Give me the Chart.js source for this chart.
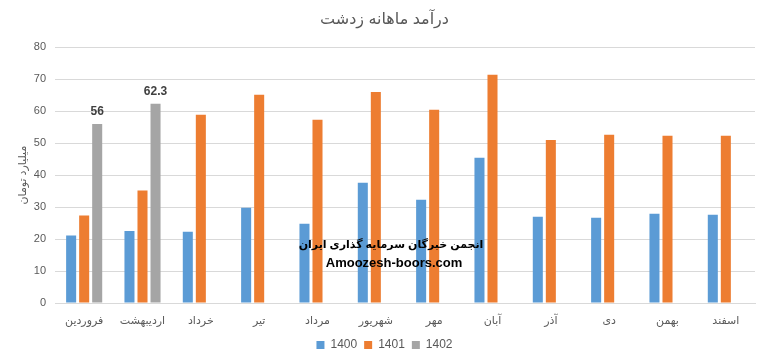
<!DOCTYPE html>
<html>
<head>
<meta charset="utf-8">
<script src="https://cdn.jsdelivr.net/npm/chart.js@4/dist/chart.umd.min.js"></script>
<style>
  html, body { margin: 0; padding: 0; background: #fff; }
  #wrap { width: 767px; height: 361px; }
</style>
</head>
<body>
<div id="wrap"><canvas id="c" width="767" height="361"></canvas></div>
<script>
// months (Persian calendar)
const months = ['فروردین','اردیبهشت','خرداد','تیر','مرداد','شهریور','مهر','آبان','آذر','دی','بهمن','اسفند'];
const seriesNames = ['1400','1401','1402'];
const v1400 = [21.1, 22.5, 22.3, 29.8, 24.8, 37.6, 32.3, 45.4, 27.0, 26.7, 27.9, 27.6];
const v1401 = [27.4, 35.2, 58.9, 65.1, 57.3, 66.0, 60.4, 71.4, 51.0, 52.6, 52.3, 52.3];
const v1402 = [56, 62.3, null, null, null, null, null, null, null, null, null, null];
const yTicks = [0, 10, 20, 30, 40, 50, 60, 70, 80];

const FONT = "'Liberation Sans', 'DejaVu Sans', sans-serif";
const GREY = '#595959';

// data labels above the 1402 bars
const labels1402 = {
  id: 'labels1402',
  afterDatasetsDraw(chart) {
    const ctx = chart.ctx;
    const meta = chart.getDatasetMeta(2);
    ctx.save();
    ctx.font = 'bold 12px ' + FONT;
    ctx.fillStyle = '#404040';
    ctx.textAlign = 'center';
    ctx.textBaseline = 'bottom';
    meta.data.forEach((bar, i) => {
      if (v1402[i] == null) return;
      ctx.fillText(String(v1402[i]), bar.x, bar.y - 6);
    });
    ctx.restore();
  }
};

// watermark text in the middle of the plot
const watermark = {
  id: 'watermark',
  afterDatasetsDraw(chart) {
    const ctx = chart.ctx;
    ctx.save();
    ctx.fillStyle = '#000';
    ctx.textAlign = 'center';
    ctx.textBaseline = 'alphabetic';
    ctx.font = 'bold 11px ' + FONT;
    ctx.fillText('انجمن خبرگان سرمایه گذاری ایران', 391, 248);
    ctx.font = 'bold 13px ' + FONT;
    ctx.fillText('Amoozesh-boors.com', 394, 267);
    ctx.restore();
  }
};

new Chart(document.getElementById('c'), {
  type: 'bar',
  data: {
    labels: months,
    datasets: [
      { label: seriesNames[0], data: v1400, backgroundColor: '#5B9BD5' },
      { label: seriesNames[1], data: v1401, backgroundColor: '#ED7D31' },
      { label: seriesNames[2], data: v1402, backgroundColor: '#A5A5A5' }
    ]
  },
  options: {
    responsive: false,
    animation: false,
    devicePixelRatio: 1,
    categoryPercentage: 0.67,
    barPercentage: 0.77,
    layout: { padding: { left: 14, right: 12, top: 0, bottom: 0 } },
    plugins: {
      title: {
        display: true,
        text: 'درآمد ماهانه زدشت',
        color: GREY,
        font: { family: FONT, size: 16, weight: 'normal' },
        padding: { top: 10, bottom: 18 }
      },
      legend: {
        position: 'bottom',
        labels: {
          color: GREY,
          font: { family: FONT, size: 12 },
          boxWidth: 8, boxHeight: 8,
          padding: 7
        }
      },
      tooltip: { enabled: false }
    },
    scales: {
      x: {
        grid: { display: false },
        border: { color: '#d9d9d9' },
        ticks: { color: GREY, font: { family: FONT, size: 11 }, maxRotation: 0, padding: 3 },
        afterFit: s => { s.height = 29; }
      },
      y: {
        min: 0, max: 80,
        afterBuildTicks: s => { s.ticks = yTicks.map(v => ({ value: v })); },
        grid: { color: '#d9d9d9', drawTicks: false },
        border: { display: false },
        ticks: { color: GREY, font: { family: FONT, size: 11 }, padding: 9 },
        title: {
          display: true,
          text: 'میلیارد تومان',
          color: GREY,
          font: { family: FONT, size: 11 },
          padding: { top: 2, bottom: 4 }
        },
        afterFit: s => { s.width = 41; }
      }
    }
  },
  plugins: [labels1402, watermark]
});
</script>
</body>
</html>
